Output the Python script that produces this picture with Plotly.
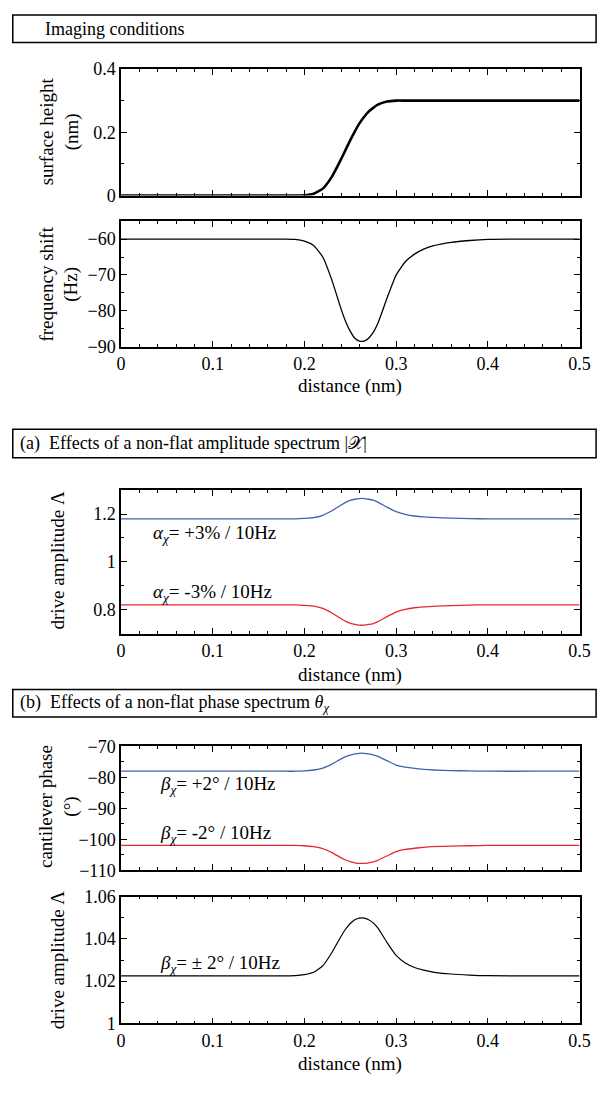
import plotly.graph_objects as go

# ---------------- data ----------------
distance = [0, 0.1, 0.18, 0.19, 0.20, 0.21, 0.22, 0.23, 0.24, 0.245, 0.25, 0.255, 0.26, 0.265,
            0.27, 0.275, 0.28, 0.29, 0.30, 0.31, 0.32, 0.33, 0.34, 0.36, 0.38, 0.40, 0.45, 0.5]

surface_height = [0, 0, 0, 0, 0.001, 0.006, 0.022, 0.06, 0.115, 0.145, 0.175, 0.203, 0.228, 0.248,
                  0.265, 0.277, 0.287, 0.297, 0.3, 0.3, 0.3, 0.3, 0.3, 0.3, 0.3, 0.3, 0.3, 0.3]

frequency_shift = [-60, -60, -60, -60.1, -60.6, -61.8, -65.0, -71.5, -79.5, -83.0, -85.7, -87.6, -88.4, -88.4,
                   -87.6, -86.0, -83.5, -76.5, -70.0, -66.3, -64.2, -62.8, -61.9, -60.9, -60.4, -60.1, -60, -60]

drive_amp_plus3 = [1.18, 1.18, 1.18, 1.180, 1.182, 1.185, 1.195, 1.214, 1.238, 1.249, 1.257, 1.262, 1.265, 1.265,
                   1.262, 1.258, 1.250, 1.229, 1.210, 1.199, 1.192, 1.188, 1.186, 1.183, 1.181, 1.180, 1.18, 1.18]

drive_amp_minus3 = [0.82, 0.82, 0.82, 0.820, 0.818, 0.815, 0.805, 0.786, 0.762, 0.751, 0.743, 0.738, 0.735, 0.735,
                    0.738, 0.742, 0.750, 0.771, 0.790, 0.801, 0.808, 0.812, 0.814, 0.817, 0.819, 0.820, 0.82, 0.82]

phase_plus2 = [-78, -78, -78, -78.0, -77.9, -77.6, -77.0, -75.7, -74.0, -73.3, -72.8, -72.4, -72.2, -72.2,
               -72.4, -72.7, -73.2, -74.6, -76.0, -76.7, -77.1, -77.4, -77.6, -77.8, -77.9, -78.0, -78, -78]

phase_minus2 = [-102, -102, -102, -102.0, -102.1, -102.4, -103.0, -104.3, -106.0, -106.7, -107.2, -107.6, -107.8, -107.8,
                -107.6, -107.3, -106.8, -105.4, -104.0, -103.3, -102.9, -102.6, -102.4, -102.2, -102.1, -102.0, -102, -102]

drive_amp_pm2 = [1.0225, 1.0225, 1.0225, 1.0226, 1.0231, 1.0242, 1.0273, 1.0336, 1.0413, 1.0447, 1.0473, 1.0491,
                 1.0499, 1.0499, 1.0491, 1.0476, 1.0452, 1.0384, 1.0322, 1.0286, 1.0265, 1.0252, 1.0243, 1.0234,
                 1.0229, 1.0226, 1.0225, 1.0225]

x_ticks = [0, 0.1, 0.2, 0.3, 0.4, 0.5]

header_texts = ["Imaging conditions",
                "(a)  Effects of a non-flat amplitude spectrum |𝒳|",
                "(b)  Effects of a non-flat phase spectrum <i>θ</i><sub><i>χ</i></sub>"]

# ---------------- layout helpers ----------------
W, H = 611, 1109
FONT = "Liberation Serif, Times New Roman, DejaVu Serif, serif"
BLUE = "#4163ae"
RED = "#e8292e"


def px_x(p):
    return p / W


def px_y(p):
    return 1 - p / H


plot_x = [px_x(120), px_x(590)]
plot_rows = [(60, 189), (215, 343), (489, 635), (750, 876), (903, 1032)]

fig = go.Figure()

traces = [
    (1, surface_height, "black", 2.6),
    (2, frequency_shift, "black", 1.3),
    (3, drive_amp_plus3, BLUE, 1.3),
    (3, drive_amp_minus3, RED, 1.3),
    (4, phase_plus2, BLUE, 1.3),
    (4, phase_minus2, RED, 1.3),
    (5, drive_amp_pm2, "black", 1.2),
]
for idx, ys, col, lw in traces:
    sfx = "" if idx == 1 else str(idx)
    fig.add_trace(go.Scatter(x=distance, y=ys, mode="lines",
                             line=dict(color=col, width=lw, shape="spline", smoothing=0.5),
                             xaxis="x" + sfx, yaxis="y" + sfx, showlegend=False,
                             hoverinfo="skip"))

y_specs = [
    dict(range=[0, 0.4], dtick=0.2, tick0=0, minor_dtick=0.1),
    dict(range=[-90, -55], dtick=10, tick0=-90, minor_dtick=5),
    dict(range=[0.7, 1.3], dtick=0.2, tick0=0.8, minor_dtick=0.1),
    dict(range=[-110, -70], dtick=10, tick0=-110, minor_dtick=5),
    dict(range=[1.0, 1.06], dtick=0.02, tick0=1.0, minor_dtick=0.01),
]
show_x_labels = [False, True, True, False, True]

TICK_SIZE = 18
TITLE_SIZE = 19

layout = dict(
    width=W, height=H,
    margin=dict(l=0, r=0, t=0, b=0),
    paper_bgcolor="white", plot_bgcolor="white",
    font=dict(family=FONT, size=TICK_SIZE, color="black"),
    showlegend=False,
)

for i, ((top, bot), ys, showx) in enumerate(zip(plot_rows, y_specs, show_x_labels)):
    n = i + 1
    sfx = "" if n == 1 else str(n)
    layout["xaxis" + sfx] = dict(
        domain=plot_x, range=[0, 0.5], anchor="y" + sfx,
        tickvals=x_ticks, ticktext=[("%g" % v) for v in x_ticks],
        showticklabels=showx,
        ticks="inside", ticklen=6, tickwidth=1.3, tickcolor="black",
        minor=dict(ticks="inside", ticklen=3, dtick=0.02, tick0=0, tickwidth=1, tickcolor="black"),
        showline=True, linecolor="black", linewidth=1.5, mirror="allticks",
        showgrid=False, zeroline=False,
        tickfont=dict(family=FONT, size=TICK_SIZE),
    )
    layout["yaxis" + sfx] = dict(
        domain=[px_y(bot), px_y(top)], range=ys["range"], anchor="x" + sfx,
        dtick=ys["dtick"], tick0=ys["tick0"],
        ticks="inside", ticklen=6, tickwidth=1.3, tickcolor="black",
        minor=dict(ticks="inside", ticklen=3, dtick=ys["minor_dtick"], tick0=ys["tick0"],
                   tickwidth=1, tickcolor="black"),
        showline=True, linecolor="black", linewidth=1.5, mirror="allticks",
        showgrid=False, zeroline=False,
        tickfont=dict(family=FONT, size=TICK_SIZE),
    )

fig.update_layout(**layout)

# header boxes
box_rows = [(5, 33), (427, 456), (692, 720)]
text_x = [40, 14, 14]
for (top, bot), txt, tx in zip(box_rows, header_texts, text_x):
    fig.add_shape(type="rect", xref="paper", yref="paper",
                  x0=px_x(9), x1=px_x(607), y0=px_y(bot), y1=px_y(top),
                  line=dict(color="black", width=1.5), fillcolor="rgba(0,0,0,0)")
    fig.add_annotation(xref="paper", yref="paper", x=px_x(tx), y=px_y((top + bot) / 2),
                       xanchor="left", yanchor="middle", text=txt, showarrow=False,
                       font=dict(family=FONT, size=18, color="black"))

# y-axis titles
y_titles = [
    ("surface height<br>(nm)", 57, 124),
    ("frequency shift<br>(Hz)", 57, 279),
    ("drive amplitude Λ", 55, 560),
    ("cantilever phase<br>(°)", 56, 811),
    ("drive amplitude Λ", 55, 967),
]
for txt, xc, yc in y_titles:
    fig.add_annotation(xref="paper", yref="paper", x=px_x(xc), y=px_y(yc),
                       xanchor="center", yanchor="middle", text=txt, textangle=-90,
                       showarrow=False, font=dict(family=FONT, size=TITLE_SIZE, color="black"))

# x-axis titles
for yc in [383, 677, 1073]:
    fig.add_annotation(xref="paper", yref="paper", x=px_x(355), y=px_y(yc),
                       xanchor="center", yanchor="middle", text="distance (nm)",
                       showarrow=False, font=dict(family=FONT, size=TITLE_SIZE, color="black"))

# in-plot labels
labels = [
    ("x3", "y3", 0.033, 1.115, "<i>α</i><sub><i>χ</i></sub>= +3% / 10Hz"),
    ("x3", "y3", 0.033, 0.868, "<i>α</i><sub><i>χ</i></sub>= -3% / 10Hz"),
    ("x4", "y4", 0.040, -82.4, "<i>β</i><sub><i>χ</i></sub>= +2° / 10Hz"),
    ("x4", "y4", 0.040, -98.2, "<i>β</i><sub><i>χ</i></sub>= -2° / 10Hz"),
    ("x5", "y5", 0.040, 1.028, "<i>β</i><sub><i>χ</i></sub>= ± 2° / 10Hz"),
]
for xr, yr, xv, yv, txt in labels:
    fig.add_annotation(xref=xr, yref=yr, x=xv, y=yv, xanchor="left", yanchor="middle",
                       text=txt, showarrow=False, font=dict(family=FONT, size=19, color="black"))

fig.write_html("out.html", config={"displayModeBar": False},
               post_script="document.body.style.margin='0';document.body.style.overflow='hidden';")
